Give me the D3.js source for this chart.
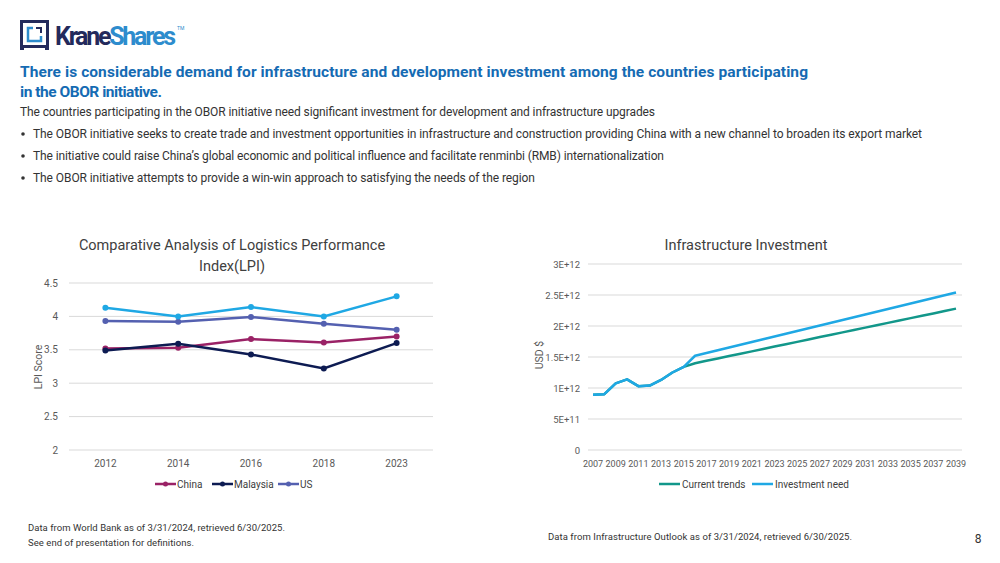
<!DOCTYPE html>
<html>
<head>
<meta charset="utf-8">
<script src="https://cdn.jsdelivr.net/npm/d3@7"></script>
<style>
  html, body { margin: 0; padding: 0; background: #fff; }
  svg text { font-family: Roboto, "Noto Sans", sans-serif; }
</style>
</head>
<body>
<svg id="page" width="1000" height="563"></svg>
<script>
// LPI 数据
var lpiYears = ["2012", "2014", "2016", "2018", "2023"];
var lpiChina = [3.52, 3.53, 3.66, 3.61, 3.7];
var lpiMalaysia = [3.49, 3.59, 3.43, 3.22, 3.6];
var lpiUS = [3.93, 3.92, 3.99, 3.89, 3.8];
var lpiSingapore = [4.13, 4.0, 4.14, 4.0, 4.3];
var lpiTicks = [2, 2.5, 3, 3.5, 4, 4.5];

// 基础设施投资数据 (万亿美元)
var invYears = [2007, 2008, 2009, 2010, 2011, 2012, 2013, 2014, 2015, 2016, 2017, 2018, 2019, 2020, 2021, 2022, 2023,
    2024, 2025, 2026, 2027, 2028, 2029, 2030, 2031, 2032, 2033, 2034, 2035, 2036, 2037, 2038, 2039];
var currentTrends = [0.89, 0.90, 1.075, 1.14, 1.03, 1.04, 1.13, 1.25, 1.34, 1.400, 1.438, 1.477, 1.515, 1.553, 1.591, 1.630, 1.668,
    1.706, 1.744, 1.783, 1.821, 1.859, 1.897, 1.936, 1.974, 2.012, 2.050, 2.089, 2.127, 2.165, 2.203, 2.242, 2.280];
var investmentNeed = [0.89, 0.90, 1.075, 1.14, 1.03, 1.04, 1.13, 1.25, 1.34, 1.520, 1.564, 1.609, 1.653, 1.697, 1.742, 1.786, 1.830,
    1.875, 1.919, 1.963, 2.008, 2.052, 2.096, 2.141, 2.185, 2.229, 2.274, 2.318, 2.362, 2.407, 2.451, 2.495, 2.540];
var invTicks = [0, 5e11, 1e12, 1.5e12, 2e12, 2.5e12, 3e12];
var invTickLabels = ["0", "5E+11", "1E+12", "1.5E+12", "2E+12", "2.5E+12", "3E+12"];
var invXTicks = d3.range(2007, 2040, 2);

var svg = d3.select("#page");

// ---- logo ----
var logo = svg.append("g");
logo.append("rect").attr("x", 21.5).attr("y", 21.5).attr("width", 26).attr("height", 25)
    .attr("fill", "none").attr("stroke", "#232a5c").attr("stroke-width", 3);
logo.append("rect").attr("x", 20).attr("y", 46).attr("width", 4).attr("height", 4).attr("fill", "#232a5c");
logo.append("rect").attr("x", 45).attr("y", 46).attr("width", 4).attr("height", 4).attr("fill", "#232a5c");
logo.append("path").attr("d", "M33,28 H28 V41 H41 V36").attr("fill", "none").attr("stroke", "#2d8ccd").attr("stroke-width", 2.5);
logo.append("path").attr("d", "M36,28 H41 V33").attr("fill", "none").attr("stroke", "#232a5c").attr("stroke-width", 2);
var lt = logo.append("text").attr("x", 55).attr("y", 45)
    .style("font-size", "25px").style("font-weight", "700").attr("textLength", 121);
lt.append("tspan").attr("fill", "#232a5c").text("Krane");
lt.append("tspan").attr("fill", "#2d8ccd").text("Shares");
logo.append("text").attr("x", 177).attr("y", 30).attr("fill", "#2d8ccd").style("font-size", "5px").text("TM");

// ---- 标题和正文 ----
svg.append("text").attr("x", 20).attr("y", 77).attr("fill", "#156bb3")
    .style("font-size", "15.5px").style("font-weight", "700").attr("textLength", 788)
    .text("There is considerable demand for infrastructure and development investment among the countries participating");
svg.append("text").attr("x", 20).attr("y", 97).attr("fill", "#156bb3")
    .style("font-size", "15.5px").style("font-weight", "700").attr("textLength", 142)
    .text("in the OBOR initiative.");
svg.append("text").attr("x", 20).attr("y", 116).attr("fill", "#333")
    .style("font-size", "12px").attr("textLength", 635)
    .text("The countries participating in the OBOR initiative need significant investment for development and infrastructure upgrades");

var bullets = [
    ["The OBOR initiative seeks to create trade and investment opportunities in infrastructure and construction providing China with a new channel to broaden its export market", 889],
    ["The initiative could raise China\u2019s global economic and political influence and facilitate renminbi (RMB) internationalization", 631],
    ["The OBOR initiative attempts to provide a win-win approach to satisfying the needs of the region", 502]
];
bullets.forEach((b, i) => {
    var y = 138 + i * 22;
    svg.append("circle").attr("cx", 23).attr("cy", y - 4).attr("r", 1.8).attr("fill", "#333");
    svg.append("text").attr("x", 33).attr("y", y).attr("fill", "#333")
        .style("font-size", "12px").attr("textLength", b[1]).text(b[0]);
});

// ---- 图表1: LPI ----
var x1 = d3.scalePoint().domain(lpiYears).range([69, 433]).padding(0.5);
var y1 = d3.scaleLinear().domain([2, 4.5]).range([450, 283]);

var g1 = svg.append("g");
g1.selectAll(".grid").data(lpiTicks).join("line")
    .attr("x1", 69).attr("x2", 433)
    .attr("y1", d => y1(d)).attr("y2", d => y1(d))
    .attr("stroke", "#d9d9d9").attr("stroke-width", 1);
g1.selectAll(".yl").data(lpiTicks).join("text")
    .attr("x", 58).attr("y", d => y1(d) + 3.5).attr("text-anchor", "end")
    .attr("fill", "#595959").style("font-size", "10px").text(d => d);
g1.selectAll(".xl").data(lpiYears).join("text")
    .attr("x", d => x1(d)).attr("y", 467).attr("text-anchor", "middle")
    .attr("fill", "#595959").style("font-size", "10px").text(d => d);
g1.append("text").attr("transform", "translate(42,367) rotate(-90)").attr("text-anchor", "middle")
    .attr("fill", "#595959").style("font-size", "10.5px").text("LPI Score");
g1.append("text").attr("x", 232).attr("y", 250).attr("text-anchor", "middle")
    .attr("fill", "#404040").style("font-size", "14.5px").text("Comparative Analysis of Logistics Performance");
g1.append("text").attr("x", 232).attr("y", 271).attr("text-anchor", "middle")
    .attr("fill", "#404040").style("font-size", "14.5px").text("Index(LPI)");

var lpiSeries = [
    {name: "China", values: lpiChina, color: "#9a2266"},
    {name: "Malaysia", values: lpiMalaysia, color: "#0d1b52"},
    {name: "US", values: lpiUS, color: "#5460b0"},
    {name: "Singapore", values: lpiSingapore, color: "#1fa8e4"}
];
var line1 = d3.line().x((d, i) => x1(lpiYears[i])).y(d => y1(d));
lpiSeries.forEach(s => {
    g1.append("path").datum(s.values)
        .attr("fill", "none").attr("stroke", s.color).attr("stroke-width", 2.5)
        .attr("d", line1);
    g1.selectAll(null).data(s.values).join("circle")
        .attr("cx", (d, i) => x1(lpiYears[i])).attr("cy", d => y1(d))
        .attr("r", 3).attr("fill", s.color);
});

// 图例 (只有前三个)
var leg1X = [155, 212, 278];
lpiSeries.slice(0, 3).forEach((s, i) => {
    var lx = leg1X[i];
    g1.append("line").attr("x1", lx).attr("x2", lx + 21).attr("y1", 484).attr("y2", 484)
        .attr("stroke", s.color).attr("stroke-width", 2.5);
    g1.append("circle").attr("cx", lx + 10.5).attr("cy", 484).attr("r", 2.5).attr("fill", s.color);
    g1.append("text").attr("x", lx + 22).attr("y", 487.5).attr("fill", "#404040")
        .style("font-size", "10px").text(s.name);
});

// ---- 图表2: 基础设施投资 ----
var x2 = d3.scaleLinear().domain([2007, 2039]).range([593, 956]);
var y2 = d3.scaleLinear().domain([0, 3e12]).range([450, 264]);

var g2 = svg.append("g");
g2.selectAll(".grid").data(invTicks).join("line")
    .attr("x1", 588).attr("x2", 962)
    .attr("y1", d => y2(d)).attr("y2", d => y2(d))
    .attr("stroke", "#d9d9d9").attr("stroke-width", 1);
g2.selectAll(".yl").data(invTicks).join("text")
    .attr("x", 580).attr("y", d => y2(d) + 3.5).attr("text-anchor", "end")
    .attr("fill", "#595959").style("font-size", "9.5px").text((d, i) => invTickLabels[i]);
g2.selectAll(".xl").data(invXTicks).join("text")
    .attr("x", d => x2(d)).attr("y", 467).attr("text-anchor", "middle")
    .attr("fill", "#595959").style("font-size", "9px").text(d => d);
g2.append("text").attr("transform", "translate(543,355) rotate(-90)").attr("text-anchor", "middle")
    .attr("fill", "#595959").style("font-size", "10.5px").text("USD $");
g2.append("text").attr("x", 746).attr("y", 250).attr("text-anchor", "middle")
    .attr("fill", "#404040").style("font-size", "14.5px").text("Infrastructure Investment");

var invSeries = [
    {name: "Current trends", values: currentTrends, color: "#12978a"},
    {name: "Investment need", values: investmentNeed, color: "#1fa8e4"}
];
var line2 = d3.line().x((d, i) => x2(invYears[i])).y(d => y2(d * 1e12));
invSeries.forEach(s => {
    g2.append("path").datum(s.values)
        .attr("fill", "none").attr("stroke", s.color).attr("stroke-width", 2.5)
        .attr("stroke-linejoin", "round")
        .attr("d", line2);
});
var leg2X = [659, 752];
invSeries.forEach((s, i) => {
    var lx = leg2X[i];
    g2.append("line").attr("x1", lx).attr("x2", lx + 21).attr("y1", 484).attr("y2", 484)
        .attr("stroke", s.color).attr("stroke-width", 2.5);
    g2.append("text").attr("x", lx + 23).attr("y", 487.5).attr("fill", "#404040")
        .style("font-size", "10px").text(s.name);
});

// ---- 脚注 ----
svg.append("text").attr("x", 28).attr("y", 531).attr("fill", "#333").style("font-size", "9.5px")
    .attr("textLength", 257).text("Data from World Bank as of 3/31/2024, retrieved 6/30/2025.");
svg.append("text").attr("x", 28).attr("y", 546).attr("fill", "#333").style("font-size", "9.5px")
    .attr("textLength", 166).text("See end of presentation for definitions.");
svg.append("text").attr("x", 548).attr("y", 540).attr("fill", "#333").style("font-size", "9.5px")
    .attr("textLength", 304).text("Data from Infrastructure Outlook as of 3/31/2024, retrieved 6/30/2025.");
svg.append("text").attr("x", 978).attr("y", 543).attr("fill", "#333").style("font-size", "12px")
    .attr("text-anchor", "middle").text("8");
</script>
</body>
</html>
